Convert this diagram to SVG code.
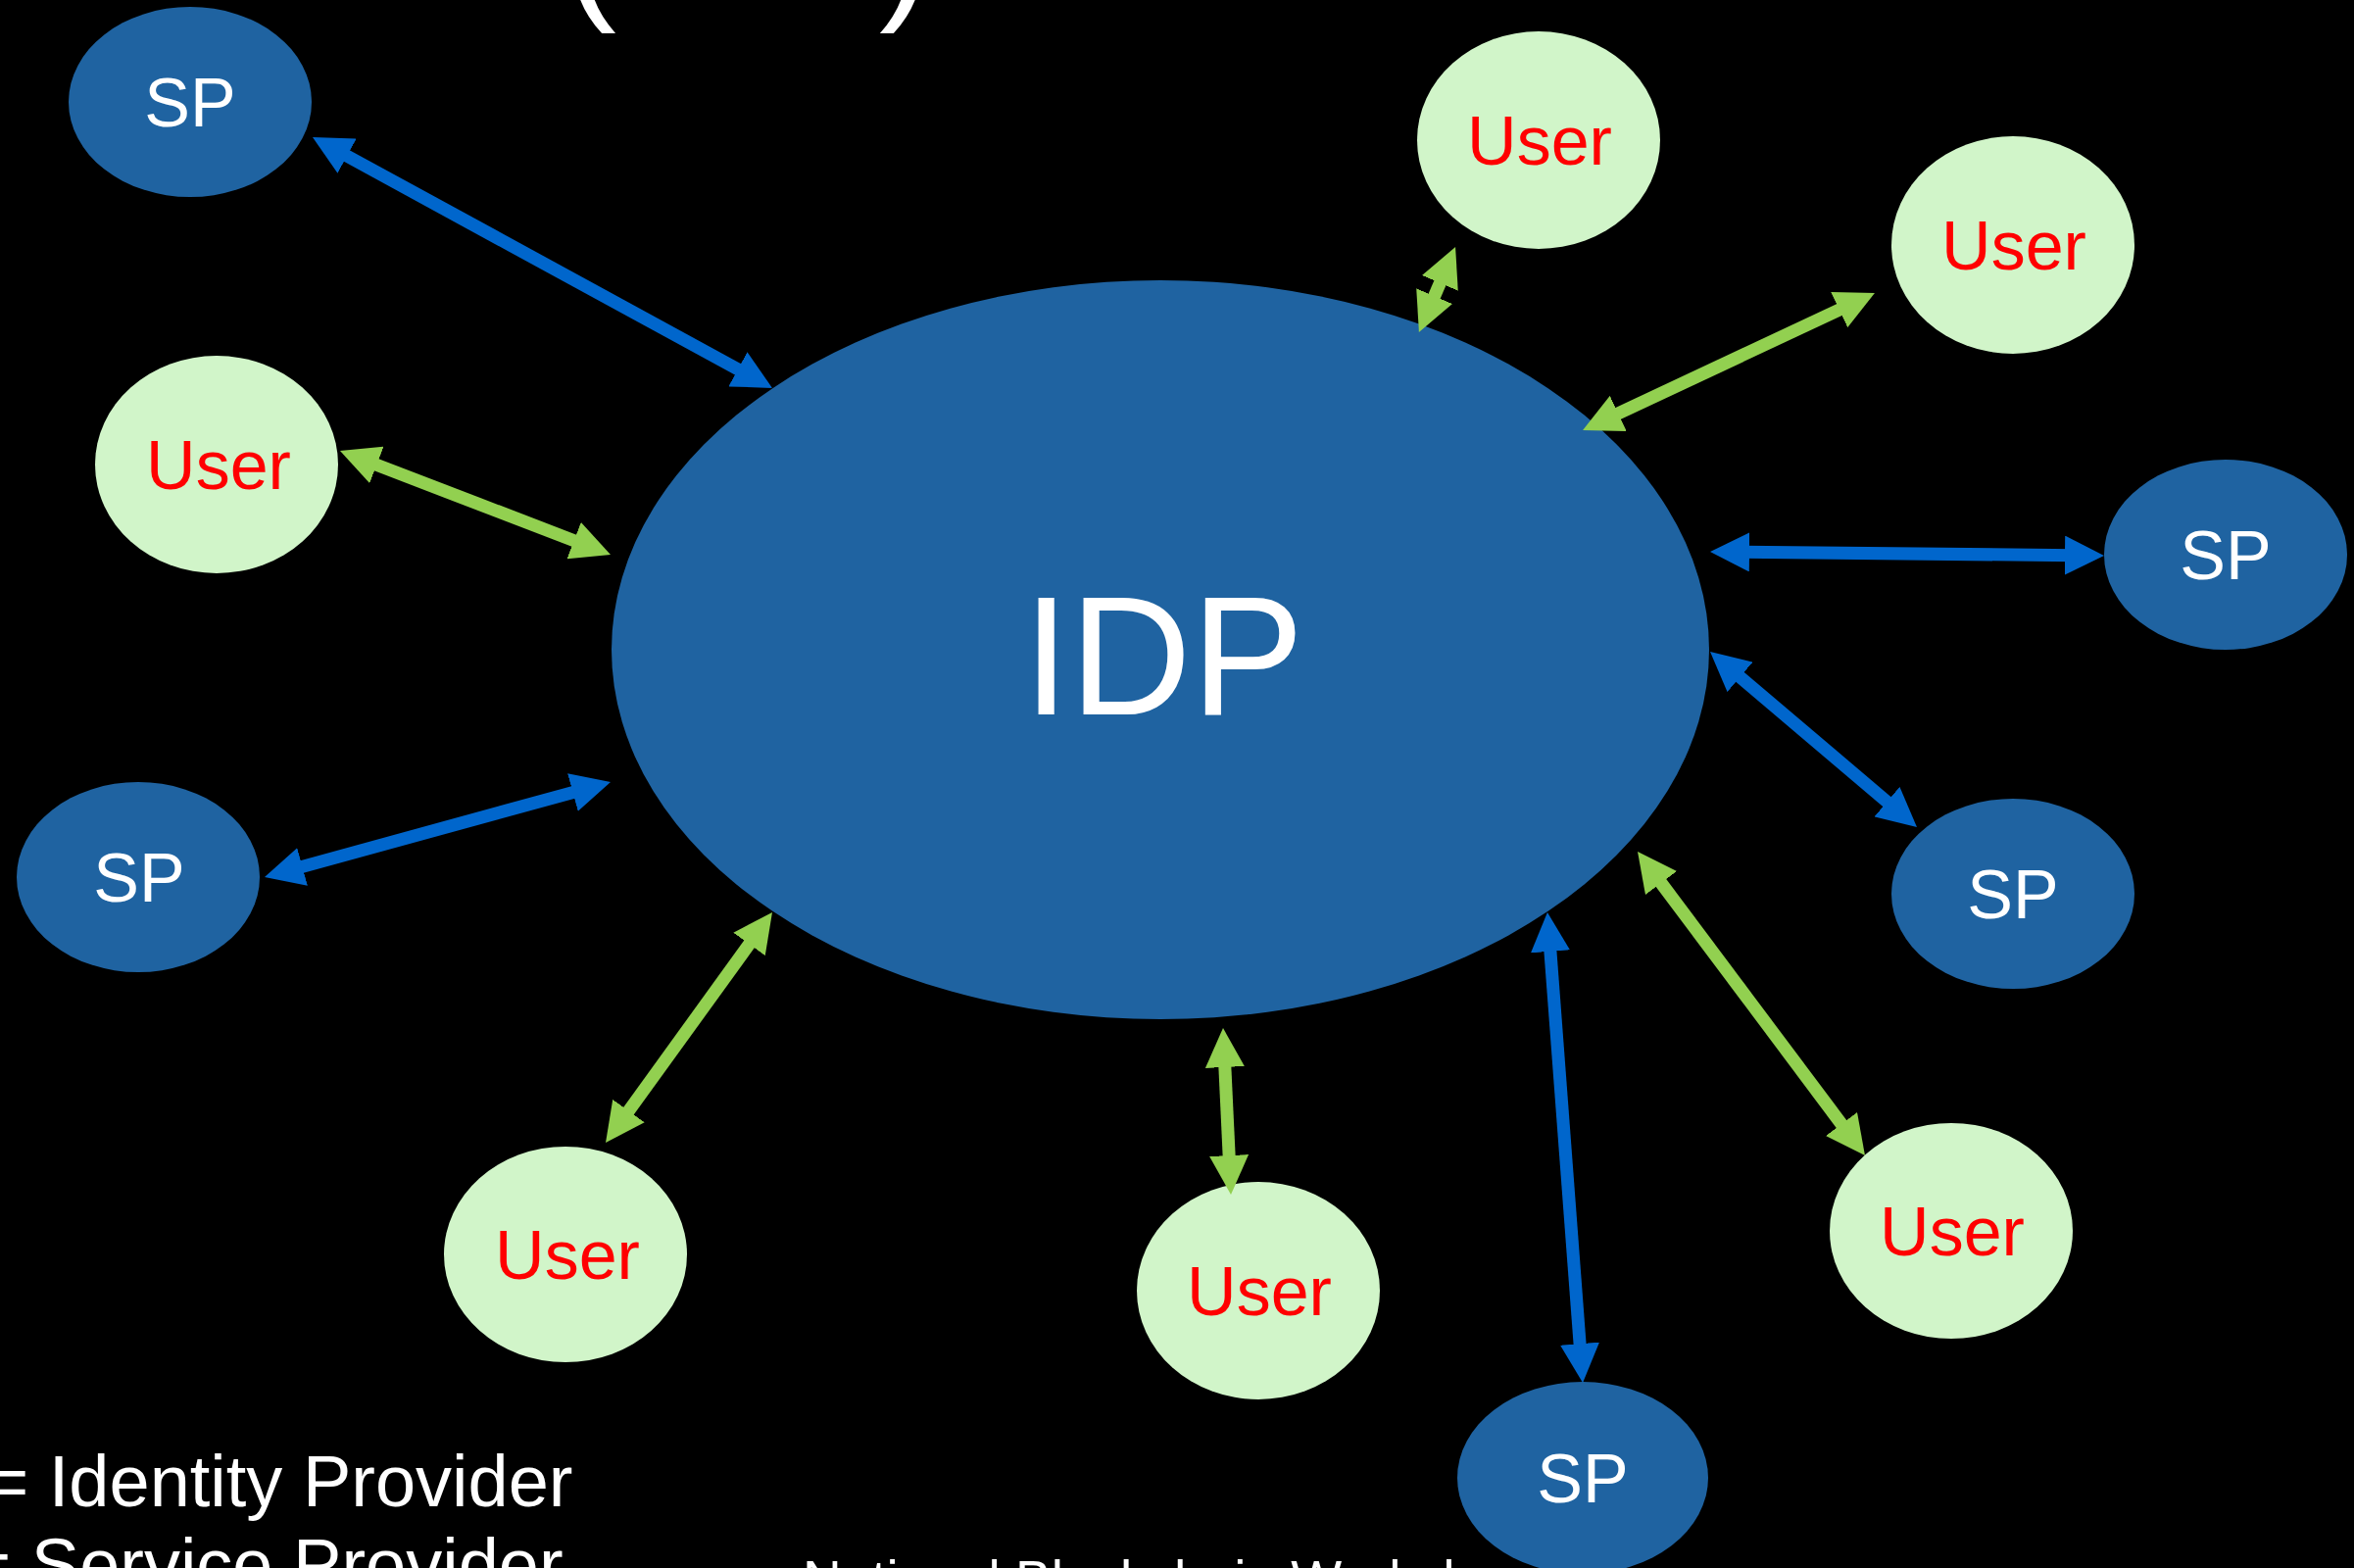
<svg xmlns="http://www.w3.org/2000/svg" width="2402" height="1600" viewBox="0 0 2402 1600">
  <defs>
    <style>
      .bg { fill: #000000; }
      .sp { fill: #1F63A1; }
      .user { fill: #D1F5C9; }
      .idp { fill: #1F63A1; }
      .lbl { font-family: "Liberation Sans", Arial, Helvetica, sans-serif; text-anchor: middle; }
      .sptxt { fill: #FFFFFF; font-size: 70px; }
      .usertxt { fill: #FF0000; font-size: 70px; }
      .idptxt { fill: #FFFFFF; font-size: 172px; }
      .plain { font-family: "Liberation Sans", Arial, Helvetica, sans-serif; fill: #FFFFFF; }
      .ab { stroke: #0066CC; stroke-width: 13; fill: none; marker-start: url(#hb); marker-end: url(#hb); }
      .ag { stroke: #92D050; stroke-width: 13; fill: none; marker-start: url(#hg); marker-end: url(#hg); }
    </style>
    <marker id="hb" viewBox="0 0 40 40" markerUnits="userSpaceOnUse" markerWidth="40" markerHeight="40" refX="10" refY="20" orient="auto-start-reverse">
      <path d="M0,0 L40,20 L0,40 Z" fill="#0066CC"/>
    </marker>
    <marker id="hg" viewBox="0 0 40 40" markerUnits="userSpaceOnUse" markerWidth="40" markerHeight="40" refX="10" refY="20" orient="auto-start-reverse">
      <path d="M0,0 L40,20 L0,40 Z" fill="#92D050"/>
    </marker>
  </defs>

  <rect class="bg" x="0" y="0" width="2402" height="1600"/>

  <!-- cut-off title and footer texts -->
  <g id="title">
    <text class="plain" x="575" y="0" font-size="162">(</text>
    <text class="plain" x="897" y="0" font-size="162">)</text>
  </g>
  <g id="legend">
    <text class="plain" x="-14" y="1537" font-size="74">= Identity Provider</text>
    <text class="plain" x="-32" y="1622" font-size="74">= Service Provider</text>
  </g>
  <text class="plain" x="819" y="1631" font-size="55">National Blockchain Workshop</text>

  <g id="idp">
    <ellipse class="idp" cx="1184" cy="663" rx="560" ry="377"/>
    <text class="lbl idptxt" x="1187" y="729">IDP</text>
  </g>

  <g id="sp-topleft">
    <ellipse class="sp" cx="194" cy="104" rx="124" ry="97"/>
    <text class="lbl sptxt" x="194" y="129">SP</text>
  </g>
  <g id="user-left">
    <ellipse class="user" cx="221" cy="474" rx="124" ry="111"/>
    <text class="lbl usertxt" x="223" y="499">User</text>
  </g>
  <g id="sp-left">
    <ellipse class="sp" cx="141" cy="895" rx="124" ry="97"/>
    <text class="lbl sptxt" x="142" y="920">SP</text>
  </g>
  <g id="user-bottomleft">
    <ellipse class="user" cx="577" cy="1280" rx="124" ry="110"/>
    <text class="lbl usertxt" x="579" y="1305">User</text>
  </g>
  <g id="user-bottomcenter">
    <ellipse class="user" cx="1284" cy="1317" rx="124" ry="111"/>
    <text class="lbl usertxt" x="1285" y="1342">User</text>
  </g>
  <g id="sp-bottom">
    <ellipse class="sp" cx="1615" cy="1508" rx="128" ry="98"/>
    <text class="lbl sptxt" x="1615" y="1533">SP</text>
  </g>
  <g id="user-bottomright">
    <ellipse class="user" cx="1991" cy="1256" rx="124" ry="110"/>
    <text class="lbl usertxt" x="1992" y="1281">User</text>
  </g>
  <g id="sp-rightlower">
    <ellipse class="sp" cx="2054" cy="912" rx="124" ry="97"/>
    <text class="lbl sptxt" x="2054" y="937">SP</text>
  </g>
  <g id="sp-rightupper">
    <ellipse class="sp" cx="2271" cy="566" rx="124" ry="97"/>
    <text class="lbl sptxt" x="2271" y="591">SP</text>
  </g>
  <g id="user-topright">
    <ellipse class="user" cx="2054" cy="250" rx="124" ry="111"/>
    <text class="lbl usertxt" x="2055" y="275">User</text>
  </g>
  <g id="user-top">
    <ellipse class="user" cx="1570" cy="143" rx="124" ry="111"/>
    <text class="lbl usertxt" x="1571" y="168">User</text>
  </g>

  <g id="connectors">
    <line class="ab" x1="345.3" y1="154.4" x2="761.7" y2="381.6"/>
    <line class="ag" x1="375" y1="470.8" x2="595" y2="555.2"/>
    <line class="ab" x1="298.9" y1="887.1" x2="594.1" y2="805.9"/>
    <line class="ag" x1="635.6" y1="1141.7" x2="770.4" y2="955.3"/>
    <line class="ag" x1="1254.6" y1="1189" x2="1249.4" y2="1079"/>
    <line class="ab" x1="1612.8" y1="1381.1" x2="1581.2" y2="960.9"/>
    <line class="ag" x1="1885" y1="1155" x2="1689" y2="893"/>
    <line class="ab" x1="1933.1" y1="824.6" x2="1767.9" y2="684.4"/>
    <line class="ab" x1="2117" y1="566.7" x2="1775" y2="563.3"/>
    <line class="ag" x1="1885.8" y1="311.8" x2="1642.2" y2="426.2"/>
    <line class="ag" x1="1473.3" y1="279.6" x2="1459.7" y2="311.4"/>
  </g>
</svg>
